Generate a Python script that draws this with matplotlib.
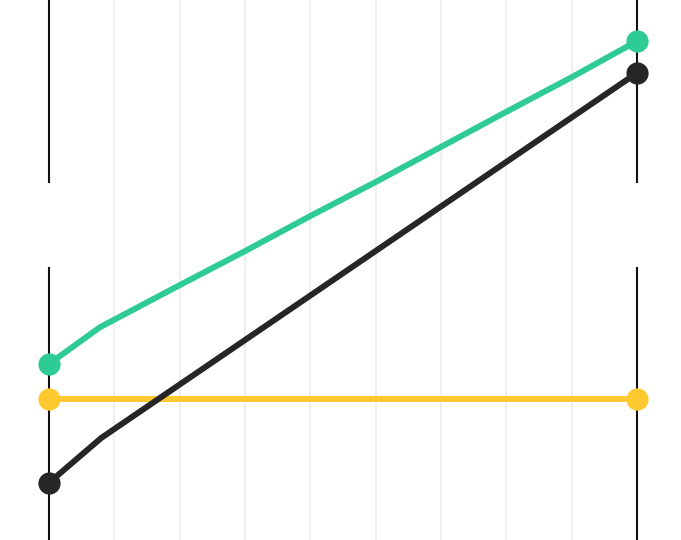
import numpy as np
import matplotlib
matplotlib.use('Agg')
from matplotlib import pyplot as plt

# data (x in gridline steps, y in 0-100 units)
green_x = [0, 0.78, 2, 3, 4, 5, 6, 7, 8, 9]
green_y = [32.6, 39.4, 47.2, 53.5, 60.0, 66.3, 72.8, 79.3, 85.7, 92.4]
black_x = [0, 0.8, 9.0]
black_y = [10.6, 18.9, 86.5]
yellow_x = [0, 9.0]
yellow_y = [26.1, 26.1]
grid_x = [1, 2, 3, 4, 5, 6, 7, 8]

GREEN = '#2ecc94'
BLACK = '#262626'
YELLOW = '#ffca30'


def main():
    fig = plt.figure(figsize=(6.81, 5.4), dpi=100)
    ax = fig.add_axes([0, 0, 1, 1])
    ax.set_xlim(-0.75, 9.673)
    ax.set_ylim(0, 100)
    ax.axis('off')

    for gx in grid_x:
        ax.axvline(gx, color='#efefef', lw=1.5, zorder=0)

    # broken vertical axis lines on both ends
    for ex in (0, 9):
        ax.plot([ex, ex], [100, 66.3], color='#111111', lw=1.5, zorder=1)
        ax.plot([ex, ex], [50.4, 0], color='#111111', lw=1.5, zorder=1)

    for xs, ys, c in [(yellow_x, yellow_y, YELLOW),
                      (black_x, black_y, BLACK),
                      (green_x, green_y, GREEN)]:
        ax.plot(xs, ys, color=c, lw=4.3, solid_capstyle='round',
                solid_joinstyle='round', zorder=2)
        ax.plot([xs[0], xs[-1]], [ys[0], ys[-1]], 'o', color=c,
                markersize=16, markeredgewidth=0, zorder=3)

    fig.savefig('out.png', dpi=100)


if __name__ == '__main__':
    main()
